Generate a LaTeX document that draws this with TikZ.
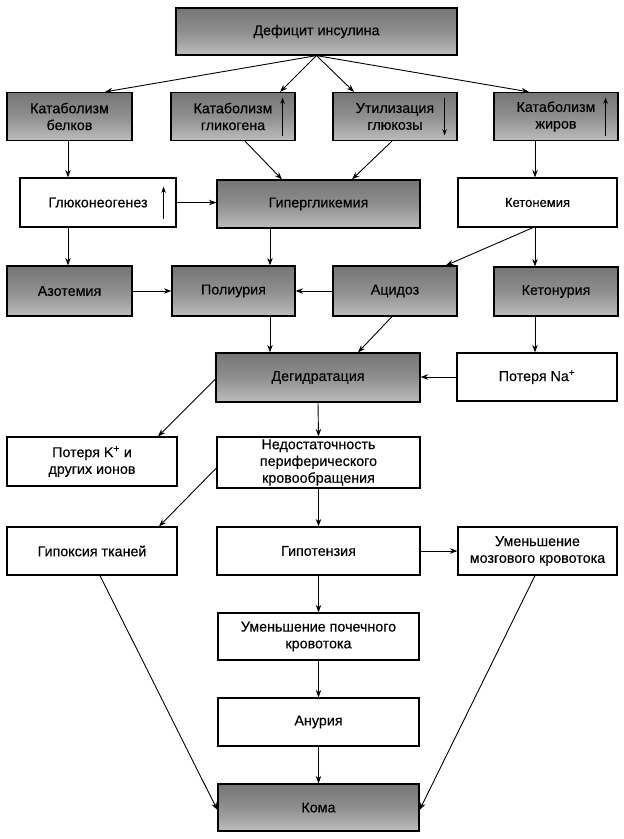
\documentclass[tikz,border=0pt]{standalone}
\usepackage{fontspec}
\setmainfont{Liberation Sans}[FakeBold=0.3]
\usetikzlibrary{arrows.meta,calc}
\begin{document}
\begin{tikzpicture}[x=1pt,y=-1pt,
 box/.style={draw=black,line width=1.2pt,rectangle,inner sep=0pt,align=center,font=\fontsize{14.3}{16.8}\selectfont,text=black},
 gbox/.style={box,top color=black!54,bottom color=black!26,middle color=black!44},
 wbox/.style={box,fill=white},
 arr/.style={line width=0.9pt,-{Stealth[length=7.5pt,width=5.5pt]}},
 inarr/.style={line width=1.1pt,-{Stealth[length=6.5pt,width=4.5pt]}},
 ]
\useasboundingbox (0,0) rectangle (624,839);
\node[gbox,minimum width=281pt,minimum height=47pt] (def) at (316.5,31.5) {Дефицит инсулина};
\node[gbox,minimum width=125pt,minimum height=48pt] (kb) at (69.5,116.5) {Катаболизм\\белков};
\node[gbox,minimum width=124pt,minimum height=48pt] (kg) at (233,116.5) {Катаболизм\\гликогена};
\node[gbox,minimum width=124pt,minimum height=48pt] (ug) at (395,116.5) {Утилизация\\глюкозы};
\node[gbox,minimum width=124pt,minimum height=48pt] (kz) at (556,116.5) {Катаболизм\\жиров};
\node[wbox,minimum width=156pt,minimum height=49pt] (glu) at (98,202.5) {Глюконеогенез};
\node[gbox,minimum width=203pt,minimum height=48pt] (hyp) at (318.5,204) {Гипергликемия};
\node[wbox,minimum width=159pt,minimum height=49pt,font=\fontsize{13}{15}\selectfont] (ketm) at (537.5,202.5) {Кетонемия};
\node[gbox,minimum width=125pt,minimum height=50pt] (azo) at (69.5,291) {Азотемия};
\node[gbox,minimum width=123pt,minimum height=50pt] (pol) at (233.5,291) {Полиурия};
\node[gbox,minimum width=124pt,minimum height=50pt] (aci) at (395,291) {Ацидоз};
\node[gbox,minimum width=124pt,minimum height=49pt] (ketu) at (556,291.5) {Кетонурия};
\node[gbox,minimum width=204pt,minimum height=49pt] (deg) at (318,377.5) {Дегидратация};
\node[wbox,minimum width=160pt,minimum height=48pt] (na) at (537,377) {Потеря Na\textsuperscript{+}};
\node[wbox,minimum width=170pt,minimum height=49pt] (pk) at (92,461.5) {Потеря K\textsuperscript{+} и\\других ионов};
\node[wbox,minimum width=203pt,minimum height=51pt] (ned) at (318.5,462.5) {Недостаточность\\периферического\\кровообращения};
\node[wbox,minimum width=170pt,minimum height=48pt] (hpx) at (92,551) {Гипоксия тканей};
\node[wbox,minimum width=203pt,minimum height=48pt] (hpt) at (318.5,551) {Гипотензия};
\node[wbox,minimum width=159pt,minimum height=48pt] (mozg) at (537.5,551) {Уменьшение\\мозгового кровотока};
\node[wbox,minimum width=201pt,minimum height=47pt] (poch) at (318.5,636.5) {Уменьшение почечного\\кровотока};
\node[wbox,minimum width=201pt,minimum height=48pt] (anu) at (318.5,722) {Анурия};
\node[gbox,minimum width=201pt,minimum height=47pt] (koma) at (318.5,807.5) {Кома};
% small arrows inside boxes
\draw[inarr] ($(kg.east)+(-13,19)$) -- ($(kg.east)+(-13,-19)$);
\draw[inarr] ($(ug.east)+(-13,-19)$) -- ($(ug.east)+(-13,19)$);
\draw[inarr] ($(kz.east)+(-13,19)$) -- ($(kz.east)+(-13,-19)$);
\draw[inarr] ($(glu.east)+(-13,16)$) -- ($(glu.east)+(-13,-16)$);
% connectors
\draw[arr] (def.south) -- (kb.north -| 105,0);
\draw[arr] (def.south) -- (kg.north -| 280,0);
\draw[arr] (def.south) -- (ug.north -| 354,0);
\draw[arr] (def.south) -- (kz.north -| 529,0);
\draw[arr] (kb.south -| 68,0) -- (glu.north -| 68,0);
\draw[arr] (kg.south -| 245,0) -- (hyp.north -| 282,0);
\draw[arr] (ug.south -| 392,0) -- (hyp.north -| 352,0);
\draw[arr] (kz.south -| 535,0) -- (ketm.north -| 535,0);
\draw[arr] (glu.east) -- (hyp.west |- glu.east);
\draw[arr] (glu.south -| 68,0) -- (azo.north -| 68,0);
\draw[arr] (hyp.south -| 270,0) -- (pol.north -| 270,0);
\draw[arr] (ketm.south -| 535,0) -- (ketu.north -| 535,0);
\draw[arr] (ketm.south -| 533,0) -- (aci.north -| 446,0);
\draw[arr] (azo.east) -- (pol.west);
\draw[arr] (aci.west) -- (pol.east);
\draw[arr] (pol.south -| 270,0) -- (deg.north -| 270,0);
\draw[arr] (aci.south -| 392,0) -- (deg.north -| 358,0);
\draw[arr] (ketu.south -| 535,0) -- (na.north -| 535,0);
\draw[arr] (na.west) -- (deg.east |- na.west);
\draw[arr] (deg.west |- 0,379) -- (pk.north -| 158,0);
\draw[arr] (deg.south) -- (ned.north);
\draw[arr] (ned.west |- 0,468) -- (hpx.north -| 159,0);
\draw[arr] (ned.south) -- (hpt.north);
\draw[arr] (hpt.east) -- (mozg.west);
\draw[arr] (hpt.south) -- (poch.north);
\draw[arr] (poch.south) -- (anu.north);
\draw[arr] (anu.south) -- (koma.north);
\draw[arr] (hpx.south -| 100,0) -- (koma.west |- 0,810);
\draw[arr] (mozg.south -| 535,0) -- (koma.east |- 0,810);
\end{tikzpicture}
\end{document}
